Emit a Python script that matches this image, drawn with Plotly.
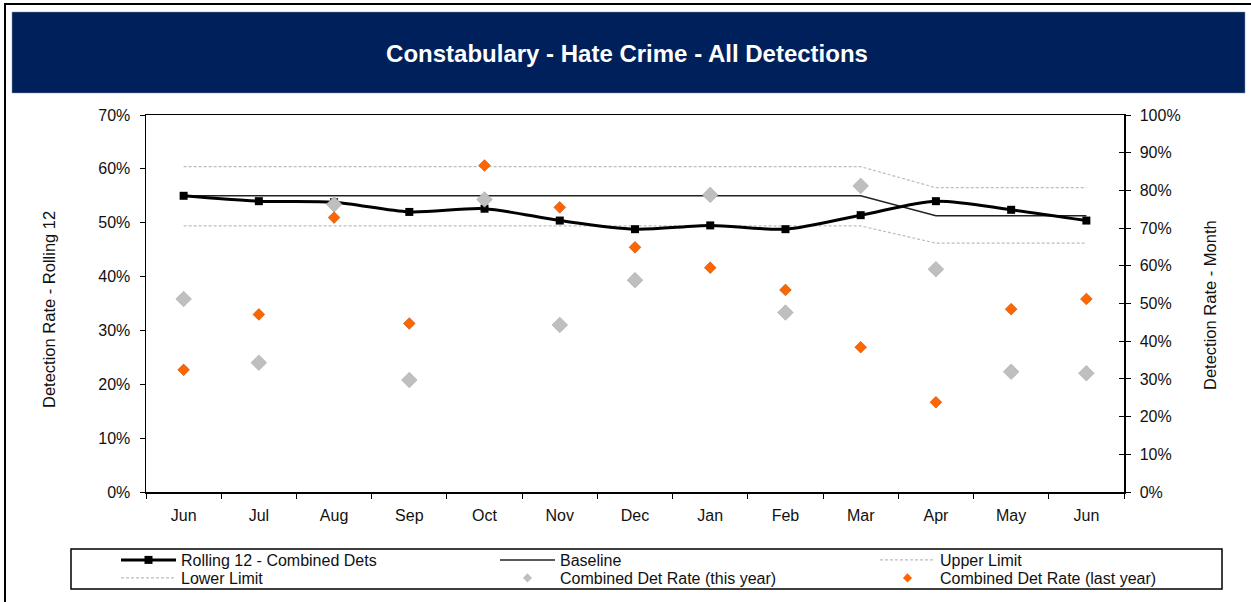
import plotly.graph_objects as go

# ---------------- data ----------------
months = ["Jun", "Jul", "Aug", "Sep", "Oct", "Nov", "Dec", "Jan", "Feb", "Mar", "Apr", "May", "Jun"]
rolling_12 = [55.0, 54.0, 53.8, 52.0, 52.6, 50.4, 48.8, 49.5, 48.8, 51.4, 54.0, 52.4, 50.4]
baseline = [55.0, 55.0, 55.0, 55.0, 55.0, 55.0, 55.0, 55.0, 55.0, 55.0, 51.3, 51.3, 51.3]
upper_limit = [60.4, 60.4, 60.4, 60.4, 60.4, 60.4, 60.4, 60.4, 60.4, 60.4, 56.5, 56.5, 56.5]
lower_limit = [49.4, 49.4, 49.4, 49.4, 49.4, 49.4, 49.4, 49.4, 49.4, 49.4, 46.2, 46.2, 46.2]
this_year = [51.2, 34.3, 76.3, 29.7, 77.6, 44.3, 56.2, 78.8, 47.6, 81.2, 59.1, 31.9, 31.5]
last_year = [32.4, 47.1, 72.8, 44.7, 86.6, 75.5, 64.9, 59.5, 53.6, 38.4, 23.8, 48.5, 51.2]
left_ticks = [0, 10, 20, 30, 40, 50, 60, 70]
right_ticks = [0, 10, 20, 30, 40, 50, 60, 70, 80, 90, 100]

x = list(range(len(months)))

# ---------------- layout geometry (pixels) ----------------
W, H = 1251, 602
L, R, T, B = 146, 1124, 115, 492


def px2x(p):
    return (p - L) / (R - L)


def px2y(p):
    return (B - p) / (B - T)


FONT = "Liberation Sans, Arial, sans-serif"
TXT = "#111111"

fig = go.Figure()

fig.add_trace(go.Scatter(x=x, y=upper_limit, name="Upper Limit", mode="lines",
                         line=dict(color="#BDBDBD", width=1.2, dash="3px,2px"),
                         legend="legend3", hoverinfo="skip"))
fig.add_trace(go.Scatter(x=x, y=lower_limit, name="Lower Limit", mode="lines",
                         line=dict(color="#BDBDBD", width=1.2, dash="3px,2px"),
                         legend="legend4", hoverinfo="skip"))
fig.add_trace(go.Scatter(x=x, y=baseline, name="Baseline", mode="lines",
                         line=dict(color="#222222", width=1.5),
                         legend="legend2", hoverinfo="skip"))
fig.add_trace(go.Scatter(x=x, y=rolling_12, name="Rolling 12 - Combined Dets", mode="lines+markers",
                         line=dict(color="black", width=3, shape="spline", smoothing=0.8),
                         marker=dict(symbol="square", size=8, color="black"),
                         legend="legend"))
fig.add_trace(go.Scatter(x=x, y=this_year, name="Combined Det Rate (this year)", mode="markers",
                         yaxis="y2", showlegend=False,
                         marker=dict(symbol="diamond", size=12, color="#BFBFBF",
                                     line=dict(color="#A8A8A8", width=0.6))))
fig.add_trace(go.Scatter(x=x, y=last_year, name="Combined Det Rate (last year)", mode="markers",
                         yaxis="y2", showlegend=False,
                         marker=dict(symbol="diamond", size=9, color="#FF6600",
                                     line=dict(color="#B84A00", width=0.6))))
# legend proxies with small symbols (no data)
fig.add_trace(go.Scatter(x=[None], y=[None], name="Combined Det Rate (this year)", mode="markers",
                         yaxis="y2", legend="legend5",
                         marker=dict(symbol="diamond", size=7, color="#BFBFBF")))
fig.add_trace(go.Scatter(x=[None], y=[None], name="Combined Det Rate (last year)", mode="markers",
                         yaxis="y2", legend="legend6",
                         marker=dict(symbol="diamond", size=7, color="#FF6600")))
# helper axis for the inner half of the right-hand tick marks
fig.add_trace(go.Scatter(x=[None], y=[None], yaxis="y3", showlegend=False, hoverinfo="skip"))


def legend_at(px, py):
    return dict(orientation="h", bgcolor="rgba(0,0,0,0)", borderwidth=0,
                font=dict(family=FONT, size=16, color=TXT),
                itemwidth=55, x=px2x(px), y=px2y(py),
                xanchor="left", yanchor="middle",
                itemclick=False, itemdoubleclick=False)


col_x = [116, 495, 875]
row_y = [560, 578]

fig.update_layout(
    width=W, height=H,
    margin=dict(l=L, r=W - R, t=T, b=H - B, autoexpand=False),
    paper_bgcolor="white", plot_bgcolor="white",
    font=dict(family=FONT, size=16, color=TXT),
    title=dict(text="<b>Constabulary - Hate Crime - All Detections</b>",
               xref="container", yref="container", x=627 / W, y=1 - 54 / H,
               xanchor="center", yanchor="middle",
               font=dict(family=FONT, size=24, color="white")),
    xaxis=dict(range=[-0.5, 12.5], tickvals=x, ticktext=months, ticks="",
               ticklabelstandoff=8,
               tickfont=dict(family=FONT, size=16, color=TXT),
               minor=dict(tickvals=[i - 0.5 for i in range(len(months) + 1)], ticks="outside",
                          ticklen=5, tickwidth=1, tickcolor="black", showgrid=False),
               showline=True, linecolor="black", linewidth=1.5, mirror=True,
               showgrid=False, zeroline=False, fixedrange=True),
    yaxis=dict(range=[0, 70], tickvals=left_ticks, ticktext=[f"{v}%" for v in left_ticks],
               ticks="outside", ticklen=5, tickwidth=1, tickcolor="black", ticklabelstandoff=6,
               tickfont=dict(family=FONT, size=16, color=TXT),
               showline=True, linecolor="black", linewidth=1.5,
               showgrid=False, zeroline=False, fixedrange=True),
    yaxis2=dict(range=[0, 100], tickvals=right_ticks, ticktext=[f"{v}%" for v in right_ticks],
                ticks="outside", ticklen=5, tickwidth=1, tickcolor="black", ticklabelstandoff=6,
                tickfont=dict(family=FONT, size=16, color=TXT),
                overlaying="y", side="right", anchor="x",
                showline=True, linecolor="black", linewidth=1.5,
                showgrid=False, zeroline=False, fixedrange=True),
    yaxis3=dict(range=[0, 100], tickvals=right_ticks, ticks="inside", ticklen=5,
                tickwidth=1, tickcolor="black", showticklabels=False,
                overlaying="y", side="right", anchor="x",
                showline=False, showgrid=False, zeroline=False, fixedrange=True),
    legend=legend_at(col_x[0], row_y[0]),
    legend2=legend_at(col_x[1], row_y[0]),
    legend3=legend_at(col_x[2], row_y[0]),
    legend4=legend_at(col_x[0], row_y[1]),
    legend5=legend_at(col_x[1], row_y[1]),
    legend6=legend_at(col_x[2], row_y[1]),
    annotations=[
        dict(text="Detection Rate - Rolling 12", xref="paper", yref="paper",
             x=px2x(49), y=px2y(310), textangle=-90, showarrow=False,
             xanchor="center", yanchor="middle",
             font=dict(family=FONT, size=16.5, color=TXT)),
        dict(text="Detection Rate - Month", xref="paper", yref="paper",
             x=px2x(1210), y=px2y(305), textangle=-90, showarrow=False,
             xanchor="center", yanchor="middle",
             font=dict(family=FONT, size=16.5, color=TXT)),
    ],
    shapes=[
        dict(type="rect", xref="paper", yref="paper", layer="below",
             x0=px2x(5), x1=px2x(1260), y0=px2y(612), y1=px2y(4),
             line=dict(color="black", width=2), fillcolor="rgba(0,0,0,0)"),
        dict(type="rect", xref="paper", yref="paper", layer="below",
             x0=px2x(12), x1=px2x(1245), y0=px2y(93), y1=px2y(12),
             line=dict(color="#8090B0", width=0.5), fillcolor="#00205B"),
        dict(type="rect", xref="paper", yref="paper", layer="below",
             x0=px2x(71), x1=px2x(1222), y0=px2y(589), y1=px2y(549),
             line=dict(color="black", width=1.5), fillcolor="rgba(0,0,0,0)"),
    ],
)

fig.write_html("out.html", config={"displayModeBar": False, "staticPlot": True},
               post_script="document.body.style.margin='0';document.body.style.overflow='hidden';")
